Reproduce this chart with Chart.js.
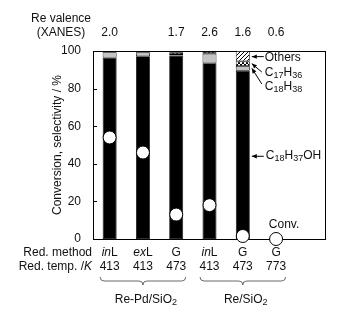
<!DOCTYPE html>
<html><head><meta charset="utf-8">
<script src="https://cdn.jsdelivr.net/npm/chart.js@4.4.0/dist/chart.umd.min.js"></script>
<style>html,body{margin:0;padding:0;background:#fff}#wrap{width:341px;height:313px}</style>
</head><body><div id="wrap"><canvas id="c" width="341" height="313"></canvas></div>
<script>
const categories = ['1','2','3','4','5','6',''];
const redMethod = ['inL','exL','G','inL','G','G'];
const redTemp = ['413','413','473','413','473','773'];
const reValence = ['2.0','','1.7','2.6','1.6','0.6'];
const alcohol = [96.5, 97.2, 97.6, 93.5, 89.5, null];
const octadecane = [2.8, 2.1, 0.8, 5.0, 2.5, null];
const heptadecane = [0, 0, 1.0, 1.0, 2.5, null];
const others = [0.7, 0.7, 0.6, 0.5, 5.5, null];
const conversion = [54, 46, 13, 18, 1.6, 0, null];
const yTicks = [0, 20, 40, 60, 80, 100];

const FONT = '"Liberation Sans", Arial, Helvetica, sans-serif';
const TXT = '#111';

function makePattern(kind){
  const c = document.createElement('canvas'); c.width = 4; c.height = 4;
  const g = c.getContext('2d');
  g.fillStyle = '#fff'; g.fillRect(0,0,4,4);
  g.fillStyle = '#000';
  if (kind === 'check') { g.fillRect(0,0,2,2); g.fillRect(2,2,2,2); }
  else {
    g.strokeStyle = '#000'; g.lineWidth = 1;
    g.beginPath(); g.moveTo(0,4); g.lineTo(4,0); g.moveTo(-1,1); g.lineTo(1,-1); g.moveTo(3,5); g.lineTo(5,3); g.stroke();
  }
  return document.getElementById('c').getContext('2d').createPattern(c,'repeat');
}

function drawRich(ctx, parts, x, y, align){
  let w = 0;
  parts.forEach(p => { ctx.font = p.font; p.w = ctx.measureText(p.t).width; w += p.w; });
  let cx = align === 'center' ? x - w/2 : (align === 'right' ? x - w : x);
  ctx.textAlign = 'left'; ctx.textBaseline = 'middle';
  parts.forEach(p => { ctx.font = p.font; ctx.fillText(p.t, cx, y + (p.dy||0)); cx += p.w; });
}
const N = '12px ' + FONT, I = 'italic 12px ' + FONT, S = '9px ' + FONT;
function formula(str){
  const parts = [];
  str.split(/(\d+)/).forEach(s => { if(!s) return; if(/^\d+$/.test(s)) parts.push({t:s, font:S, dy:3}); else parts.push({t:s, font:N}); });
  return parts;
}
function methodParts(m){
  if (m.startsWith('in')||m.startsWith('ex')) return [{t:m.slice(0,2), font:I},{t:m.slice(2), font:N}];
  return [{t:m, font:N}];
}
function arrow(ctx, x1, y1, x2, y2){
  ctx.strokeStyle = '#000'; ctx.fillStyle = '#000'; ctx.lineWidth = 1;
  ctx.beginPath(); ctx.moveTo(x1,y1); ctx.lineTo(x2,y2); ctx.stroke();
  const a = Math.atan2(y2-y1, x2-x1), L = 5, W = 2.2;
  ctx.beginPath();
  ctx.moveTo(x2,y2);
  ctx.lineTo(x2 - L*Math.cos(a) + W*Math.sin(a), y2 - L*Math.sin(a) - W*Math.cos(a));
  ctx.lineTo(x2 - L*Math.cos(a) - W*Math.sin(a), y2 - L*Math.sin(a) + W*Math.cos(a));
  ctx.closePath(); ctx.fill();
  ctx.fillStyle = TXT;
}
function brace(ctx, x1, x2, y){
  const xm = (x1+x2)/2, r = 4;
  ctx.strokeStyle = '#444'; ctx.lineWidth = 0.8;
  ctx.beginPath();
  ctx.moveTo(x1, y-4);
  ctx.quadraticCurveTo(x1, y, x1+r, y);
  ctx.lineTo(xm-r, y);
  ctx.quadraticCurveTo(xm, y, xm, y+4);
  ctx.quadraticCurveTo(xm, y, xm+r, y);
  ctx.lineTo(x2-r, y);
  ctx.quadraticCurveTo(x2, y, x2, y-4);
  ctx.stroke();
}

const framePlugin = {
  id:'frame',
  beforeDatasetsDraw(chart){
    const {ctx, chartArea:a, scales:{y}} = chart;
    ctx.save();
    ctx.strokeStyle = '#000'; ctx.lineWidth = 1;
    ctx.strokeRect(a.left+0.5, a.top+0.5, a.right-a.left-1, a.bottom-a.top);
    yTicks.forEach(v => { const py = Math.round(y.getPixelForValue(v))+0.5; ctx.beginPath(); ctx.moveTo(a.left, py); ctx.lineTo(a.left+4, py); ctx.stroke(); });
    ctx.restore();
  },
  afterDraw(chart){
    const {ctx, chartArea:a, scales:{x, y}} = chart;
    ctx.save();
    ctx.fillStyle = TXT;
    // top labels
    drawRich(ctx, [{t:'Re valence', font:N}], 61, a.top-32, 'center');
    drawRich(ctx, [{t:'(XANES)', font:N}], 61, a.top-18, 'center');
    reValence.forEach((v,i) => { if(v) drawRich(ctx, [{t:v, font:N}], x.getPixelForValue(i), a.top-18, 'center'); });
    // bottom labels
    drawRich(ctx, [{t:'Red. method', font:N}], 92, a.bottom+14, 'right');
    drawRich(ctx, [{t:'Red. temp. /', font:N},{t:'K', font:I}], 92, a.bottom+28, 'right');
    redMethod.forEach((m,i) => drawRich(ctx, methodParts(m), x.getPixelForValue(i), a.bottom+14, 'center'));
    redTemp.forEach((t,i) => drawRich(ctx, [{t:t, font:N}], x.getPixelForValue(i), a.bottom+28, 'center'));
    // braces
    const hw = 9.5;
    brace(ctx, x.getPixelForValue(0)-hw, x.getPixelForValue(2)+hw, a.bottom+42);
    brace(ctx, x.getPixelForValue(3)-hw, x.getPixelForValue(5)+hw, a.bottom+42);
    ctx.fillStyle = TXT;
    drawRich(ctx, [{t:'Re-Pd/SiO', font:N},{t:'2', font:S, dy:3}], x.getPixelForValue(1)+3, a.bottom+61, 'center');
    drawRich(ctx, [{t:'Re/SiO', font:N},{t:'2', font:S, dy:3}], x.getPixelForValue(4)+3, a.bottom+61, 'center');
    // annotations
    const bx = x.getPixelForValue(4) + 9;
    arrow(ctx, bx+12, y.getPixelForValue(97), bx, y.getPixelForValue(97));
    drawRich(ctx, [{t:'Others', font:N}], bx+13, y.getPixelForValue(96.5), 'left');
    arrow(ctx, bx+10, y.getPixelForValue(88.8), bx, y.getPixelForValue(93.3));
    drawRich(ctx, formula('C17H36'), bx+13, y.getPixelForValue(88.5), 'left');
    arrow(ctx, bx+10, y.getPixelForValue(82.5), bx, y.getPixelForValue(90.8));
    drawRich(ctx, formula('C18H38'), bx+13, y.getPixelForValue(81), 'left');
    arrow(ctx, bx+12, y.getPixelForValue(44), bx, y.getPixelForValue(44));
    drawRich(ctx, formula('C18H37OH'), bx+14, y.getPixelForValue(44.3), 'left');
    drawRich(ctx, [{t:'Conv.', font:N}], x.getPixelForValue(5)+8, y.getPixelForValue(7.5), 'center');
    ctx.restore();
  }
};

const barCommon = {type:'bar', borderColor:'#000', borderWidth:0.8, barPercentage:0.42, categoryPercentage:1, order:2, borderSkipped:false};
new Chart(document.getElementById('c'), {
  data:{
    labels: categories,
    datasets:[
      Object.assign({label:'C18H37OH', data:alcohol, backgroundColor:'#000'}, barCommon),
      Object.assign({label:'C18H38', data:octadecane, backgroundColor:'#c4c4c4'}, barCommon),
      Object.assign({label:'C17H36', data:heptadecane, backgroundColor:makePattern('check')}, barCommon),
      Object.assign({label:'Others', data:others, backgroundColor:makePattern('hatch')}, barCommon),
      {type:'line', label:'Conv.', data:conversion, showLine:false, pointRadius:6.5, pointHoverRadius:6.5,
       pointBackgroundColor:'#fff', pointBorderColor:'#000', pointBorderWidth:1, order:0, clip:false, stack:'conv'}
    ]
  },
  options:{
    responsive:false, animation:false,
    layout:{padding:{left:0, right:15, top:51, bottom:74}},
    plugins:{legend:{display:false}, tooltip:{enabled:false}},
    scales:{
      x:{display:false, stacked:true, offset:true},
      y:{stacked:true, min:0, max:100,
         afterFit(s){ s.width = 93; },
         afterBuildTicks(s){ s.ticks = yTicks.map(v => ({value:v})); },
         grid:{display:false, drawTicks:false}, border:{display:false},
         ticks:{padding:12, color:TXT, font:{family:FONT, size:12}},
         title:{display:true, text:'Conversion, selectivity / %', color:TXT, font:{family:FONT, size:12}, padding:{top:50, bottom:0}}
      }
    }
  },
  plugins:[framePlugin]
});
</script></body></html>
